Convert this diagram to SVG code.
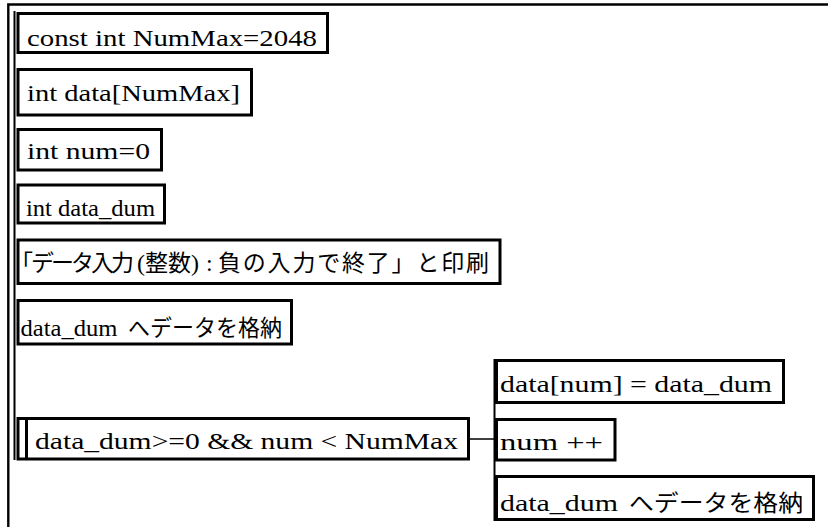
<svg xmlns="http://www.w3.org/2000/svg" width="828" height="527" viewBox="0 0 828 527">
<style>
.box{fill:#fff;stroke:#000;stroke-width:3}
.ln{stroke:#000;fill:none}
.s{font-family:"Liberation Serif","Times New Roman",serif;font-size:24px;fill:#000}
.j{font-family:"Noto Sans CJK JP","Noto Sans",sans-serif;font-size:23px;fill:#000}
</style>
<rect width="828" height="527" fill="#fff"/>
<g id="frame">
<path class="ln" d="M8.3,527 V4.5 H828" stroke-width="2.4"/>
</g>
<g id="connectors">
<line class="ln" x1="14.5" y1="11" x2="14.5" y2="460" stroke-width="2"/>
<line class="ln" x1="494.5" y1="359" x2="494.5" y2="521" stroke-width="2"/>
<line class="ln" x1="470" y1="439" x2="495" y2="439" stroke-width="1.5"/>
</g>
<g id="n1"><rect class="box" x="18" y="13.5" width="309.5" height="39"/><text class="s" x="27" y="46" textLength="290" lengthAdjust="spacingAndGlyphs">const int NumMax=2048</text></g>
<g id="n2"><rect class="box" x="18" y="69.5" width="233.5" height="45.5"/><text class="s" x="27" y="100.5" textLength="213" lengthAdjust="spacingAndGlyphs">int data[NumMax]</text></g>
<g id="n3"><rect class="box" x="18" y="129.5" width="143.5" height="40.5"/><text class="s" x="27" y="159.3" textLength="123" lengthAdjust="spacingAndGlyphs">int num=0</text></g>
<g id="n4"><rect class="box" x="18" y="185" width="146.5" height="38"/><text class="s" x="26" y="215.7" textLength="129" lengthAdjust="spacingAndGlyphs">int data_dum</text></g>
<g id="n5"><rect class="box" x="18" y="240" width="482" height="43.5"/>
<text class="j" y="271"><tspan x="10">「</tspan><tspan x="31" style="letter-spacing:-3px">データ入力</tspan><tspan class="s" x="137">(</tspan><tspan>整数</tspan><tspan class="s">)</tspan><tspan class="s" x="206">:</tspan><tspan x="218" style="letter-spacing:1.8px">負の入力で終了」と印刷</tspan></text>
</g>
<g id="n6"><rect class="box" x="18" y="300.5" width="273.5" height="43.5"/><text class="s" x="20.5" y="336" textLength="97" lengthAdjust="spacingAndGlyphs">data_dum</text><text class="j" x="128" y="336" textLength="154" lengthAdjust="spacingAndGlyphs">へデータを格納</text></g>
<g id="n7"><rect class="box" x="18" y="418.5" width="450.5" height="40.5"/><line class="ln" x1="26.5" y1="418.5" x2="26.5" y2="459" stroke-width="3"/><text class="s" x="35" y="449" textLength="423" lengthAdjust="spacingAndGlyphs">data_dum&gt;=0 &amp;&amp; num &lt; NumMax</text></g>
<g id="n8"><rect class="box" x="496.5" y="360.5" width="287" height="42"/><text class="s" x="500" y="392" textLength="272" lengthAdjust="spacingAndGlyphs">data[num] = data_dum</text></g>
<g id="n9"><rect class="box" x="496.5" y="419.5" width="118.5" height="40.5"/><text class="s" x="500" y="450" textLength="103" lengthAdjust="spacingAndGlyphs">num ++</text></g>
<g id="n10"><rect class="box" x="496.5" y="476.5" width="317" height="43"/><text class="s" x="500" y="511" textLength="118" lengthAdjust="spacingAndGlyphs">data_dum</text><text class="j" x="629" y="511" textLength="174" lengthAdjust="spacingAndGlyphs">へデータを格納</text></g>
</svg>
